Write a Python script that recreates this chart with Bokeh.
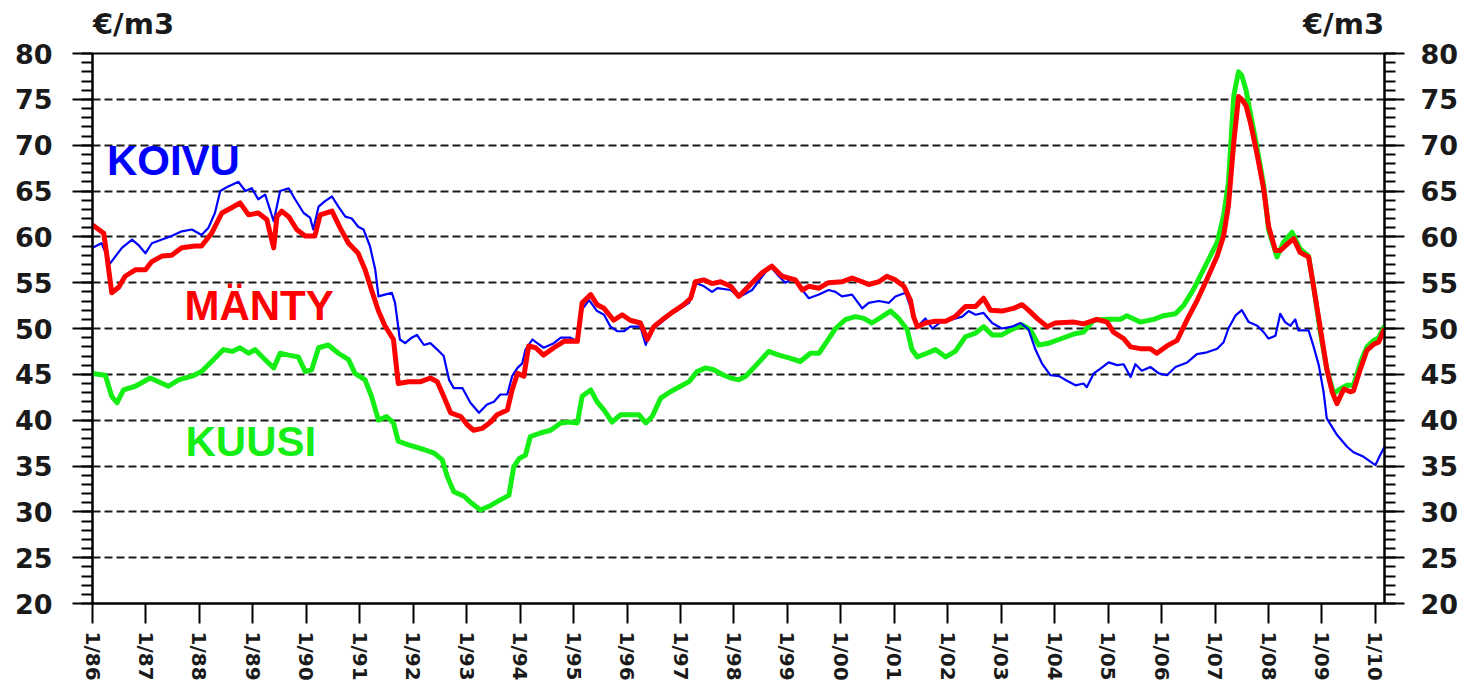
from bokeh.plotting import figure
from bokeh.models import LinearAxis, SingleIntervalTicker, FixedTicker, Label
from bokeh.embed import file_html
from bokeh.resources import INLINE

# ---------------- data ----------------
koivu_year = [1986.00, 1986.17, 1986.33, 1986.55, 1986.74, 1986.86, 1986.99, 1987.11, 1987.30, 1987.48,
              1987.67, 1987.86, 1988.04, 1988.17, 1988.29, 1988.39, 1988.54, 1988.73, 1988.86, 1988.98,
              1989.10, 1989.23, 1989.39, 1989.51, 1989.67, 1989.79, 1989.95, 1990.07, 1990.13, 1990.23,
              1990.35, 1990.48, 1990.60, 1990.73, 1990.85, 1990.97, 1991.07, 1991.19, 1991.29, 1991.35,
              1991.47, 1991.60, 1991.66, 1991.75, 1991.85, 1991.97, 1992.07, 1992.20, 1992.32, 1992.45,
              1992.57, 1992.67, 1992.76, 1992.92, 1993.07, 1993.23, 1993.38, 1993.51, 1993.63, 1993.76,
              1993.85, 1993.95, 1994.04, 1994.10, 1994.23, 1994.32, 1994.44, 1994.63, 1994.76, 1994.94,
              1995.07, 1995.16, 1995.29, 1995.44, 1995.57, 1995.69, 1995.82, 1995.94, 1996.06, 1996.25,
              1996.35, 1996.44, 1996.63, 1996.81, 1997.00, 1997.16, 1997.28, 1997.44, 1997.59, 1997.69,
              1997.94, 1998.09, 1998.34, 1998.53, 1998.68, 1998.84, 1998.96, 1999.12, 1999.28, 1999.40,
              1999.59, 1999.77, 1999.90, 2000.02, 2000.21, 2000.40, 2000.52, 2000.71, 2000.90, 2001.02,
              2001.21, 2001.33, 2001.43, 2001.58, 2001.71, 2001.89, 2002.08, 2002.27, 2002.39, 2002.52,
              2002.67, 2002.83, 2003.01, 2003.20, 2003.36, 2003.51, 2003.64, 2003.76, 2003.92, 2004.08,
              2004.23, 2004.39, 2004.54, 2004.60, 2004.73, 2004.85, 2005.01, 2005.17, 2005.29, 2005.42,
              2005.51, 2005.63, 2005.79, 2005.95, 2006.10, 2006.26, 2006.48, 2006.66, 2006.85, 2007.04,
              2007.16, 2007.25, 2007.38, 2007.50, 2007.63, 2007.79, 2007.91, 2008.00, 2008.13, 2008.22,
              2008.31, 2008.41, 2008.50, 2008.56, 2008.75, 2008.84, 2008.94, 2009.03, 2009.09, 2009.28,
              2009.47, 2009.59, 2009.78, 2010.00, 2010.09, 2010.17]
koivu_value = [58.8, 59.3, 57.1, 58.8, 59.7, 59.1, 58.2, 59.3, 59.7, 60.1,
               60.6, 60.8, 60.2, 61.0, 62.6, 65.0, 65.5, 66.0, 65.0, 65.3,
               64.1, 64.6, 61.7, 65.0, 65.3, 64.1, 62.6, 62.1, 60.8, 63.3,
               63.9, 64.4, 63.3, 62.2, 62.0, 61.1, 60.8, 59.0, 56.4, 53.5,
               53.7, 53.9, 52.8, 48.8, 48.4, 49.0, 49.3, 48.2, 48.4, 47.7,
               47.0, 44.4, 43.5, 43.5, 41.9, 40.8, 41.7, 42.0, 42.8, 42.8,
               44.8, 45.7, 46.2, 47.7, 48.8, 48.4, 47.9, 48.4, 49.0, 49.0,
               48.6, 52.1, 53.1, 51.9, 51.5, 50.2, 49.7, 49.7, 50.2, 50.2,
               48.2, 49.7, 50.6, 51.5, 52.2, 52.8, 55.0, 54.6, 54.0, 54.4,
               54.2, 53.4, 54.2, 55.7, 56.8, 55.7, 55.0, 55.5, 54.2, 53.3,
               53.7, 54.2, 54.0, 53.5, 53.7, 52.2, 52.8, 53.0, 52.8, 53.5,
               53.9, 51.9, 50.2, 51.1, 50.0, 50.8, 51.0, 51.3, 51.9, 51.5,
               51.7, 50.6, 50.0, 50.2, 50.6, 49.9, 47.7, 46.2, 44.9, 44.8,
               44.3, 43.8, 44.0, 43.6, 45.1, 45.6, 46.3, 46.0, 46.1, 44.7,
               46.1, 45.4, 45.8, 45.1, 44.9, 45.8, 46.3, 47.2, 47.4, 47.8,
               48.5, 50.0, 51.4, 52.0, 50.7, 50.3, 49.6, 48.9, 49.2, 51.6,
               50.7, 50.3, 51.0, 49.8, 49.8, 48.1, 46.0, 43.1, 40.2, 38.4,
               37.1, 36.5, 36.0, 35.1, 36.2, 37.1]

manty_year = [1986.00, 1986.21, 1986.27, 1986.36, 1986.49, 1986.61, 1986.80, 1986.99, 1987.11, 1987.30,
              1987.48, 1987.67, 1987.92, 1988.04, 1988.23, 1988.42, 1988.61, 1988.76, 1988.92, 1989.10,
              1989.26, 1989.39, 1989.45, 1989.54, 1989.67, 1989.82, 1989.98, 1990.16, 1990.26, 1990.48,
              1990.63, 1990.79, 1990.97, 1991.10, 1991.22, 1991.35, 1991.47, 1991.63, 1991.72, 1991.91,
              1992.14, 1992.32, 1992.45, 1992.57, 1992.70, 1992.89, 1993.01, 1993.13, 1993.29, 1993.45,
              1993.57, 1993.76, 1993.85, 1993.95, 1994.07, 1994.16, 1994.29, 1994.44, 1994.63, 1994.82,
              1995.07, 1995.16, 1995.32, 1995.44, 1995.57, 1995.75, 1995.91, 1996.06, 1996.25, 1996.38,
              1996.50, 1996.69, 1996.88, 1997.06, 1997.19, 1997.28, 1997.44, 1997.59, 1997.75, 1997.94,
              1998.09, 1998.34, 1998.53, 1998.71, 1998.90, 1999.15, 1999.28, 1999.40, 1999.59, 1999.77,
              2000.02, 2000.21, 2000.40, 2000.52, 2000.71, 2000.86, 2001.02, 2001.18, 2001.30, 2001.36,
              2001.43, 2001.58, 2001.77, 2001.96, 2002.14, 2002.33, 2002.52, 2002.67, 2002.80, 2003.01,
              2003.23, 2003.39, 2003.51, 2003.67, 2003.86, 2004.01, 2004.36, 2004.54, 2004.79, 2004.98,
              2005.10, 2005.29, 2005.42, 2005.60, 2005.79, 2005.91, 2006.10, 2006.29, 2006.48, 2006.66,
              2006.85, 2007.04, 2007.16, 2007.25, 2007.35, 2007.44, 2007.50, 2007.58, 2007.66, 2007.78,
              2007.91, 2008.00, 2008.13, 2008.22, 2008.35, 2008.47, 2008.59, 2008.75, 2008.84, 2008.97,
              2009.09, 2009.19, 2009.28, 2009.41, 2009.53, 2009.59, 2009.72, 2009.84, 2009.97, 2010.06,
              2010.17]
manty_value = [61.3, 60.4, 57.9, 53.9, 54.5, 55.7, 56.4, 56.4, 57.3, 57.9,
               58.0, 58.8, 59.0, 59.0, 60.4, 62.6, 63.2, 63.7, 62.4, 62.6,
               61.9, 58.8, 62.2, 62.8, 62.2, 60.8, 60.1, 60.1, 62.4, 62.8,
               61.0, 59.3, 58.2, 56.4, 54.2, 51.9, 50.3, 48.8, 44.0, 44.2,
               44.2, 44.6, 44.2, 42.6, 40.8, 40.4, 39.5, 38.9, 39.1, 39.8,
               40.6, 41.1, 43.3, 45.1, 44.8, 48.1, 47.9, 47.1, 47.9, 48.6,
               48.6, 52.8, 53.7, 52.6, 52.2, 50.9, 51.5, 50.9, 50.6, 48.8,
               50.2, 51.1, 51.9, 52.6, 53.3, 55.1, 55.3, 54.9, 55.1, 54.6,
               53.5, 55.0, 56.1, 56.8, 55.7, 55.3, 54.2, 54.6, 54.4, 55.0,
               55.1, 55.5, 55.1, 54.8, 55.1, 55.7, 55.3, 54.6, 53.1, 51.3,
               50.2, 50.6, 50.8, 50.8, 51.3, 52.4, 52.4, 53.3, 52.0, 51.9,
               52.2, 52.6, 52.0, 51.1, 50.2, 50.6, 50.7, 50.5, 51.0, 50.7,
               49.6, 48.9, 48.0, 47.8, 47.8, 47.3, 48.1, 48.7, 51.0, 53.0,
               55.4, 57.9, 60.1, 63.4, 70.3, 75.3, 75.0, 74.3, 72.5, 69.2,
               65.2, 61.2, 58.5, 58.5, 59.2, 59.8, 58.3, 57.8, 54.7, 50.0,
               45.6, 43.1, 41.8, 43.4, 43.1, 43.2, 45.6, 47.6, 48.3, 48.5,
               50.0]

kuusi_year = [1986.00, 1986.24, 1986.36, 1986.46, 1986.58, 1986.80, 1987.08, 1987.42, 1987.61, 1987.86,
              1988.04, 1988.23, 1988.45, 1988.61, 1988.76, 1988.92, 1989.04, 1989.23, 1989.39, 1989.51,
              1989.67, 1989.85, 1989.98, 1990.10, 1990.23, 1990.41, 1990.60, 1990.79, 1990.91, 1991.10,
              1991.22, 1991.35, 1991.50, 1991.63, 1991.72, 1991.91, 1992.20, 1992.39, 1992.54, 1992.64,
              1992.76, 1992.95, 1993.10, 1993.26, 1993.45, 1993.63, 1993.79, 1993.88, 1993.98, 1994.10,
              1994.19, 1994.38, 1994.57, 1994.76, 1994.91, 1995.07, 1995.16, 1995.32, 1995.44, 1995.57,
              1995.72, 1995.88, 1996.06, 1996.22, 1996.35, 1996.47, 1996.63, 1996.81, 1997.00, 1997.16,
              1997.31, 1997.47, 1997.62, 1997.81, 1997.94, 1998.09, 1998.22, 1998.40, 1998.65, 1998.84,
              1999.03, 1999.24, 1999.43, 1999.59, 1999.74, 1999.90, 2000.09, 2000.27, 2000.43, 2000.58,
              2000.77, 2000.93, 2001.08, 2001.24, 2001.33, 2001.43, 2001.61, 2001.77, 2001.96, 2002.14,
              2002.33, 2002.52, 2002.67, 2002.83, 2003.01, 2003.20, 2003.39, 2003.54, 2003.70, 2003.89,
              2004.08, 2004.36, 2004.54, 2004.73, 2004.98, 2005.23, 2005.35, 2005.60, 2005.85, 2006.04,
              2006.26, 2006.41, 2006.60, 2006.85, 2007.04, 2007.16, 2007.25, 2007.35, 2007.44, 2007.50,
              2007.58, 2007.66, 2007.78, 2007.91, 2008.00, 2008.16, 2008.28, 2008.44, 2008.59, 2008.75,
              2008.84, 2008.97, 2009.09, 2009.22, 2009.34, 2009.47, 2009.59, 2009.72, 2009.84, 2009.97,
              2010.06, 2010.17]
kuusi_value = [45.1, 44.9, 42.6, 41.9, 43.3, 43.7, 44.6, 43.7, 44.4, 44.8,
               45.3, 46.4, 47.7, 47.5, 47.9, 47.3, 47.7, 46.6, 45.7, 47.3,
               47.1, 46.9, 45.3, 45.5, 47.9, 48.2, 47.3, 46.6, 45.1, 44.4,
               42.6, 40.0, 40.4, 39.7, 37.7, 37.3, 36.8, 36.4, 35.7, 33.8,
               32.2, 31.7, 30.9, 30.2, 30.7, 31.3, 31.8, 34.9, 35.8, 36.2,
               38.2, 38.6, 38.9, 39.7, 39.8, 39.7, 42.6, 43.3, 42.0, 41.1,
               39.8, 40.6, 40.6, 40.6, 39.7, 40.4, 42.4, 43.1, 43.7, 44.2,
               45.3, 45.7, 45.5, 44.9, 44.6, 44.4, 44.8, 45.9, 47.5, 47.1,
               46.8, 46.4, 47.3, 47.3, 48.6, 50.0, 51.0, 51.3, 51.1, 50.6,
               51.3, 51.9, 51.1, 49.9, 47.7, 46.9, 47.3, 47.7, 46.9, 47.5,
               49.1, 49.5, 50.2, 49.3, 49.3, 49.9, 50.4, 49.9, 48.2, 48.4,
               48.8, 49.4, 49.6, 50.9, 51.0, 51.0, 51.4, 50.7, 51.0, 51.4,
               51.6, 52.5, 54.3, 57.2, 59.4, 62.3, 65.9, 75.4, 78.0, 77.6,
               76.0, 73.5, 69.9, 65.6, 60.8, 57.8, 59.4, 60.5, 58.7, 57.9,
               54.7, 49.6, 45.6, 42.9, 43.4, 43.8, 43.8, 46.3, 48.0, 48.7,
               49.0, 50.3]

tick_years = [1986, 1987, 1988, 1989, 1990, 1991, 1992, 1993, 1994, 1995, 1996, 1997,
              1998, 1999, 2000, 2001, 2002, 2003, 2004, 2005, 2006, 2007, 2008, 2009, 2010]
tick_labels = ["1/86", "1/87", "1/88", "1/89", "1/90", "1/91", "1/92", "1/93", "1/94", "1/95",
               "1/96", "1/97", "1/98", "1/99", "1/00", "1/01", "1/02", "1/03", "1/04", "1/05",
               "1/06", "1/07", "1/08", "1/09", "1/10"]
series_names = ["KOIVU", "MÄNTY", "KUUSI"]
unit_label = "€/m3"

# ---------------- figure ----------------
X_START, X_END = 1986.0, 2010.17
Y_START, Y_END = 20, 80
FRAME_W, FRAME_H = 1292, 550
LABEL_FONT = "Liberation Sans"
AXIS_FONT = "DejaVu Sans"
INK = "#1a1a1a"
BLUE, RED, GREEN = "#0000ff", "#ff0000", "#14ee14"

p = figure(frame_width=FRAME_W, frame_height=FRAME_H, x_range=(X_START, X_END), y_range=(Y_START, Y_END),
           output_backend="svg", toolbar_location=None,
           min_border_left=92, min_border_top=53, min_border_right=20, min_border_bottom=10,
           background_fill_color="white", border_fill_color="white")
p.outline_line_color = "black"
p.outline_line_width = 2

yticker = SingleIntervalTicker(interval=5, num_minor_ticks=5)
xticker = FixedTicker(ticks=tick_years, minor_ticks=[])


def style_y(ax, standoff):
    ax.ticker = yticker
    ax.axis_line_color = "black"
    ax.axis_line_width = 2
    ax.major_tick_out = 20
    ax.major_tick_in = 0
    ax.minor_tick_out = 11
    ax.minor_tick_in = 0
    ax.major_tick_line_width = 2
    ax.minor_tick_line_width = 2
    ax.major_tick_line_color = "black"
    ax.minor_tick_line_color = "black"
    ax.major_label_standoff = standoff
    ax.major_label_text_font = AXIS_FONT
    ax.major_label_text_font_style = "bold"
    ax.major_label_text_font_size = "27px"
    ax.major_label_text_color = INK


style_y(p.yaxis[0], 20)
right_axis = LinearAxis()
style_y(right_axis, 16)
p.add_layout(right_axis, "right")

xa = p.xaxis[0]
xa.ticker = xticker
xa.major_label_overrides = {y: lab for y, lab in zip(tick_years, tick_labels)}
xa.axis_line_color = "black"
xa.axis_line_width = 2
xa.major_tick_out = 20
xa.major_tick_in = 0
xa.minor_tick_out = 0
xa.minor_tick_in = 0
xa.major_tick_line_width = 2
xa.major_tick_line_color = "black"
xa.major_label_orientation = "vertical"
xa.major_label_standoff = 8
xa.major_label_text_font = AXIS_FONT
xa.major_label_text_font_style = "bold"
xa.major_label_text_font_size = "20px"
xa.major_label_text_color = INK

# unit labels above the frame, drawn as labels of an invisible top axis
px_per_year = FRAME_W / (X_END - X_START)
half_w = 41  # half width of the unit text in px
unit_ticks = [X_START + half_w / px_per_year, X_END - half_w / px_per_year]
top_axis = LinearAxis(ticker=FixedTicker(ticks=unit_ticks, minor_ticks=[]),
                      major_label_overrides={unit_ticks[0]: unit_label, unit_ticks[1]: unit_label},
                      axis_line_color=None, major_tick_line_color=None, minor_tick_line_color=None,
                      major_tick_out=0, major_tick_in=0, minor_tick_out=0, minor_tick_in=0,
                      major_label_standoff=13, major_label_text_font=AXIS_FONT,
                      major_label_text_font_style="bold", major_label_text_font_size="29px",
                      major_label_text_color=INK)
p.add_layout(top_axis, "above")

p.xgrid.grid_line_color = None
p.ygrid.ticker = yticker
p.ygrid.grid_line_color = INK
p.ygrid.grid_line_width = 2
p.ygrid.grid_line_dash = "8 4"

# ---------------- lines ----------------
p.line(kuusi_year, kuusi_value, line_color=GREEN, line_width=5, line_join="round")
p.line(koivu_year, koivu_value, line_color=BLUE, line_width=2.2, line_join="round")
p.line(manty_year, manty_value, line_color=RED, line_width=5, line_join="round")

# ---------------- series names ----------------
for txt, xx, yy, col in [(series_names[0], 1986.27, 68.35, BLUE),
                         (series_names[1], 1987.72, 52.55, RED),
                         (series_names[2], 1987.74, 37.65, GREEN)]:
    p.add_layout(Label(x=xx, y=yy, text=txt, text_color=col, text_font=LABEL_FONT,
                       text_font_style="bold", text_font_size="42px",
                       text_align="left", text_baseline="alphabetic"))

open("out.html", "w").write(file_html(p, INLINE))
